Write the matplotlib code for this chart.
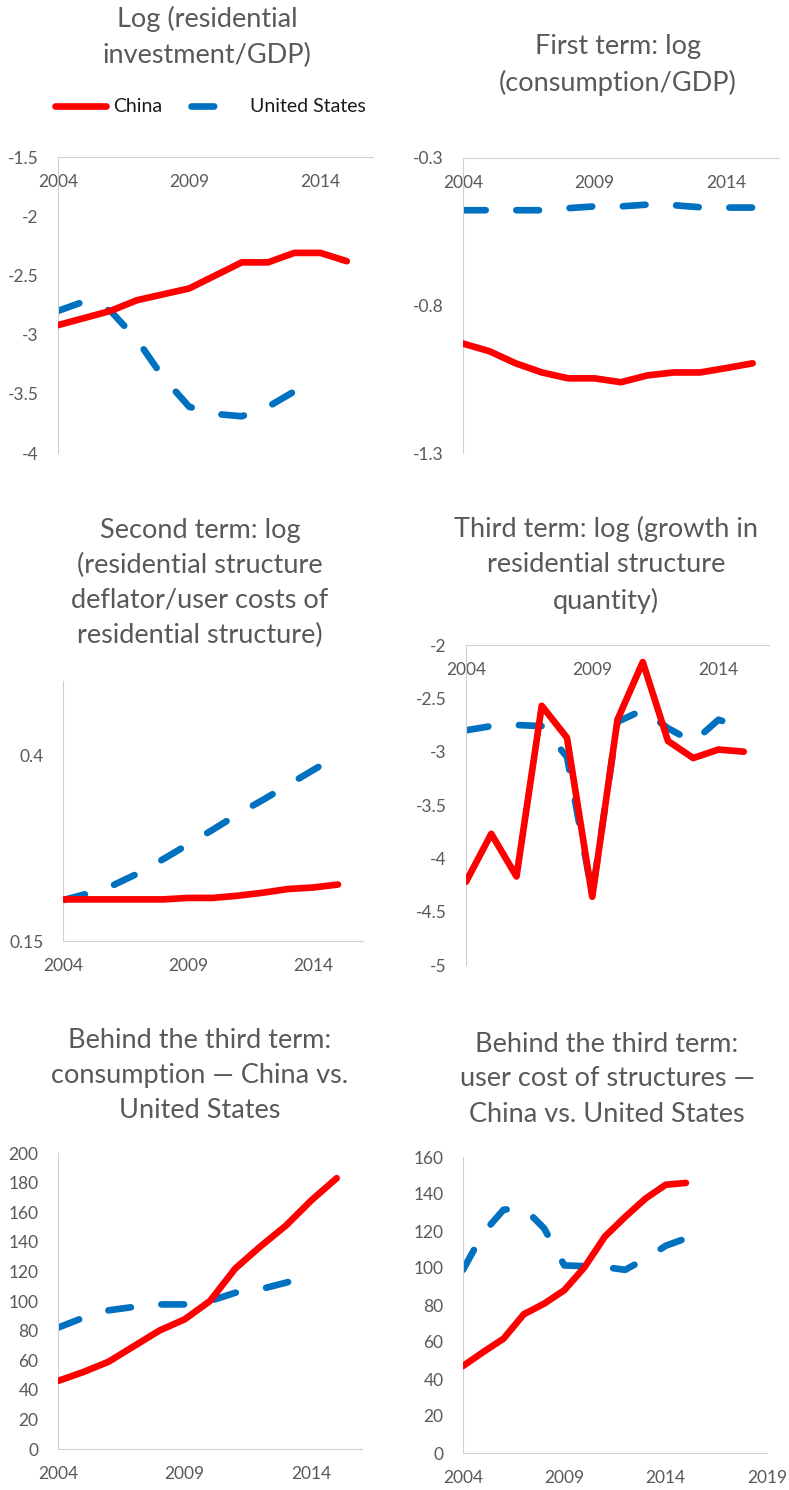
import matplotlib.pyplot as plt

plt.rcParams['font.family'] = ['Lato', 'DejaVu Sans']

years = list(range(2004, 2016))
years_us_short = list(range(2004, 2015))

# Panel 1: log (residential investment / GDP)
p1_china = [-2.92, -2.86, -2.80, -2.71, -2.66, -2.61, -2.50, -2.39, -2.39, -2.31, -2.31, -2.38]
p1_us = [-2.80, -2.72, -2.80, -3.04, -3.36, -3.61, -3.67, -3.69, -3.61, -3.48, -3.44]

# Panel 2: first term, log (consumption / GDP)
p2_china = [-0.929, -0.955, -0.996, -1.027, -1.047, -1.047, -1.060, -1.037, -1.027, -1.027, -1.012, -0.996]
p2_us = [-0.477, -0.477, -0.477, -0.477, -0.470, -0.464, -0.464, -0.458, -0.460, -0.467, -0.468, -0.468]

# Panel 3: second term
p3_china = [0.206, 0.206, 0.206, 0.206, 0.206, 0.208, 0.208, 0.211, 0.215, 0.220, 0.222, 0.226]
p3_us = [0.205, 0.214, 0.225, 0.241, 0.260, 0.280, 0.300, 0.321, 0.340, 0.360, 0.380, 0.400]

# Panel 4: third term
p4_china = [-4.22, -3.77, -4.17, -2.57, -2.87, -4.36, -2.70, -2.16, -2.90, -3.06, -2.98, -3.00]
p4_us = [-2.80, -2.76, -2.75, -2.76, -3.05, -4.34, -2.72, -2.61, -2.78, -2.91, -2.70, -2.78]

# Panel 5: consumption index
p5_china = [46, 52, 59, 69.5, 80, 87.6, 100, 122, 137, 151, 168, 183]
p5_us = [82, 88.7, 93.7, 96, 97.7, 97.7, 100, 105.6, 108, 112.4, 117.4]

# Panel 6: user cost of structures index
p6_china = [47, 54.6, 61.8, 75, 80.7, 88, 100.5, 117, 127.6, 137.5, 145, 146]
p6_us = [99, 119, 131.5, 132.5, 121.5, 101.4, 101, 100.5, 99, 105, 112, 116]

titles = [
    "Log (residential\ninvestment/GDP)",
    "First term: log\n(consumption/GDP)",
    "Second term: log\n(residential structure\ndeflator/user costs of\nresidential structure)",
    "Third term: log (growth in\nresidential structure\nquantity)",
    "Behind the third term:\nconsumption \u2014 China vs.\nUnited States",
    "Behind the third term:\nuser cost of structures \u2014\nChina vs. United States",
]

RED = "#FF0000"
BLUE = "#0070C0"
GRAY_TXT = "#595959"
AX_COL = "#D0D0D0"
W, H = 789, 1490

fig = plt.figure(figsize=(W / 100, H / 100), dpi=100)


def make_ax(l, r, t, b):
    return fig.add_axes([l / W, 1 - b / H, (r - l) / W, (b - t) / H])


def draw(ax, xc, yc, xu, yu):
    us, = ax.plot(xu, yu, color=BLUE, lw=4.8, dashes=(3.4, 4.6),
                  dash_capstyle="round", solid_joinstyle="round", label="United States")
    cn, = ax.plot(xc, yc, color=RED, lw=4.8, solid_capstyle="round",
                  solid_joinstyle="round", label="China", zorder=3)
    return cn, us


def style(ax, ylim, yticks, xlim=(2004, 2016), xticks=(2004, 2009, 2014), xtop=False):
    ax.set_xlim(*xlim)
    ax.set_ylim(*ylim)
    ax.set_xticks(list(xticks))
    ax.set_yticks(yticks)
    ax.set_yticklabels([f"{v:g}" for v in yticks])
    for s in ax.spines.values():
        s.set_visible(False)
    ax.spines["left"].set_visible(True)
    ax.spines["left"].set_color(AX_COL)
    ax.tick_params(axis="y", length=0, pad=14, labelsize=12.5, labelcolor=GRAY_TXT)
    if xtop:
        ax.spines["top"].set_visible(True)
        ax.spines["top"].set_color(AX_COL)
        ax.tick_params(axis="x", top=True, bottom=False, labeltop=True, labelbottom=False,
                       length=0, pad=-24, labelsize=12.5, labelcolor=GRAY_TXT)
    else:
        ax.spines["bottom"].set_visible(True)
        ax.spines["bottom"].set_color(AX_COL)
        ax.tick_params(axis="x", length=0, pad=12, labelsize=12.5, labelcolor=GRAY_TXT)
    ax.set_facecolor("none")


ax1 = make_ax(58, 373, 157, 453)
cn, us = draw(ax1, years, p1_china, years_us_short, p1_us)
style(ax1, (-4, -1.5), [-4, -3.5, -3, -2.5, -2, -1.5], xtop=True)

ax2 = make_ax(463, 779, 158, 453)
draw(ax2, years, p2_china, years, p2_us)
style(ax2, (-1.3, -0.3), [-1.3, -0.8, -0.3], xtop=True)

ax3 = make_ax(63, 363, 681, 941)
draw(ax3, years, p3_china, years, p3_us)
style(ax3, (0.15, 0.5), [0.15, 0.4])

ax4 = make_ax(466, 769, 645, 965)
draw(ax4, years, p4_china, years, p4_us)
style(ax4, (-5, -2), [-5, -4.5, -4, -3.5, -3, -2.5, -2], xtop=True)

ax5 = make_ax(58, 362, 1153, 1449)
draw(ax5, years, p5_china, years_us_short, p5_us)
style(ax5, (0, 200), list(range(0, 201, 20)))

ax6 = make_ax(463, 767, 1157, 1453)
draw(ax6, years, p6_china, years, p6_us)
style(ax6, (0, 160), list(range(0, 161, 20)), xlim=(2004, 2019), xticks=(2004, 2009, 2014, 2019))

title_pos = [(207, 37), (618, 65), (200, 583), (606, 565), (200, 1075), (607, 1079)]
for (x, y), t in zip(title_pos, titles):
    fig.text(x / W, 1 - y / H, t, ha="center", va="center", fontsize=19.5,
             color=GRAY_TXT, linespacing=1.5)

fig.legend([cn, us], ["China", "United States"], loc="center",
           bbox_to_anchor=(210 / W, 1 - 107 / H), ncol=2, frameon=False,
           fontsize=14, handlelength=2.65, handletextpad=0.35, columnspacing=1.5,
           labelcolor="#1a1a1a")

fig.savefig("out.png", dpi=100)
